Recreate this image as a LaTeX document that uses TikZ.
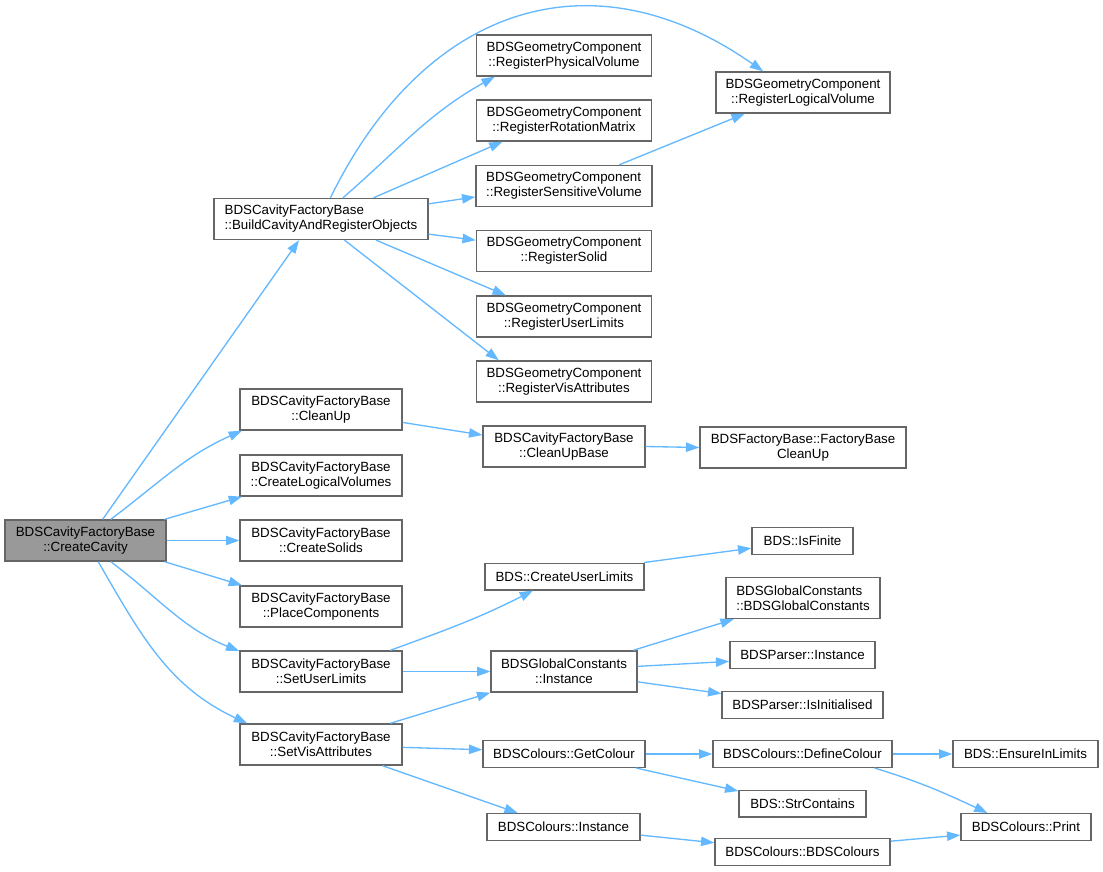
\documentclass[tikz,border=0pt]{standalone}
\usepackage{fontspec}
\setmainfont{Liberation Sans}
\usetikzlibrary{arrows.meta}

\definecolor{callblue}{HTML}{63B8FF}
\definecolor{boxgray}{HTML}{666666}
\definecolor{rootgray}{HTML}{999999}

\tikzset{
  fn/.style={rectangle,draw=boxgray,line width=1pt,fill=white,align=center,
             inner sep=2pt,minimum height=30.75pt,
             font=\fontsize{10}{11.25}\selectfont},
  fnone/.style={fn,minimum height=20pt},
  root/.style={fn,fill=rootgray},
  call/.style={every edge/.style={draw,color=callblue,line width=1pt}},
}

\begin{document}
\begin{tikzpicture}[x=0.75pt,y=-0.75pt,>={Triangle[length=10pt,width=7pt]}]
  \useasboundingbox (0,0) rectangle (1103,871);

  \node[root,minimum width=120.75pt]           (CreateCavity)            at (85.5,540.5)  {BDSCavityFactoryBase\\::CreateCavity};

  \node[fn,align=left,minimum width=160.5pt]   (BuildCavity)             at (321,219)     {BDSCavityFactoryBase\\::BuildCavityAndRegisterObjects};
  \node[fn,minimum width=121.5pt]              (CleanUp)                 at (321,409.5)   {BDSCavityFactoryBase\\::CleanUp};
  \node[fn,minimum width=121.5pt]              (CreateLogicalVolumes)    at (321,475.5)   {BDSCavityFactoryBase\\::CreateLogicalVolumes};
  \node[fn,minimum width=121.5pt]              (CreateSolids)            at (321,540.5)   {BDSCavityFactoryBase\\::CreateSolids};
  \node[fn,minimum width=121.5pt]              (PlaceComponents)         at (321,606.5)   {BDSCavityFactoryBase\\::PlaceComponents};
  \node[fn,minimum width=121.5pt]              (SetUserLimits)           at (321,671.5)   {BDSCavityFactoryBase\\::SetUserLimits};
  \node[fn,minimum width=121.5pt]              (SetVisAttributes)        at (321,744.5)   {BDSCavityFactoryBase\\::SetVisAttributes};

  \node[fn,minimum width=131.25pt]             (RegisterPhysicalVolume)  at (564,55.5)    {BDSGeometryComponent\\::RegisterPhysicalVolume};
  \node[fn,minimum width=131.25pt]             (RegisterRotationMatrix)  at (564,120.5)   {BDSGeometryComponent\\::RegisterRotationMatrix};
  \node[fn,align=left,minimum width=132pt]     (RegisterSensitiveVolume) at (564,186)     {BDSGeometryComponent\\::RegisterSensitiveVolume};
  \node[fn,minimum width=131.25pt]             (RegisterSolid)           at (564,251)     {BDSGeometryComponent\\::RegisterSolid};
  \node[fn,minimum width=131.25pt]             (RegisterUserLimits)      at (564,316.5)   {BDSGeometryComponent\\::RegisterUserLimits};
  \node[fn,minimum width=131.25pt]             (RegisterVisAttributes)   at (564,381.5)   {BDSGeometryComponent\\::RegisterVisAttributes};
  \node[fn,minimum width=130.5pt]              (RegisterLogicalVolume)   at (803,92.5)    {BDSGeometryComponent\\::RegisterLogicalVolume};

  \node[fn,minimum width=121.5pt]              (CleanUpBase)             at (564,446.5)   {BDSCavityFactoryBase\\::CleanUpBase};
  \node[fn,minimum width=154.5pt]              (FactoryBaseCleanUp)      at (803,447.5)   {BDSFactoryBase::FactoryBase\\CleanUp};

  \node[fnone,minimum width=119.25pt]          (CreateUserLimits)        at (564.5,576.5) {BDS::CreateUserLimits};
  \node[fnone,minimum width=75.75pt]           (IsFinite)                at (802.5,541)   {BDS::IsFinite};
  \node[fn,minimum width=109.5pt]              (GlobalConstantsInstance) at (564,671.5)   {BDSGlobalConstants\\::Instance};
  \node[fn,align=left,minimum width=115.5pt]   (GlobalConstantsCtor)     at (803,598)     {BDSGlobalConstants\\::BDSGlobalConstants};
  \node[fnone,minimum width=108.75pt]          (ParserInstance)          at (802.5,655)   {BDSParser::Instance};
  \node[fnone,minimum width=120.75pt]          (ParserIsInitialised)     at (802.5,705)   {BDSParser::IsInitialised};

  \node[fnone,minimum width=121.5pt]           (GetColour)               at (564,754)     {BDSColours::GetColour};
  \node[fnone,minimum width=134.25pt]          (DefineColour)            at (802.5,754)   {BDSColours::DefineColour};
  \node[fnone,minimum width=108.75pt]          (EnsureInLimits)          at (1025.5,754)  {BDS::EnsureInLimits};
  \node[fnone,minimum width=95.25pt]           (StrContains)             at (802.5,803.5) {BDS::StrContains};
  \node[fnone,minimum width=114.75pt]          (ColoursInstance)         at (563.5,827)   {BDSColours::Instance};
  \node[fnone,minimum width=131.25pt]          (ColoursCtor)             at (802.5,852)   {BDSColours::BDSColours};
  \node[fnone,minimum width=97.5pt]            (Print)                   at (1026,827)    {BDSColours::Print};

  \path[->,call]
    (CreateCavity.51)    edge                               (BuildCavity.224)
    (CreateCavity.40)    edge [out=37,in=204]               (CleanUp.195)
    (CreateCavity.15)    edge                               (CreateLogicalVolumes.195)
    (CreateCavity.east)  edge                               (CreateSolids.west)
    (CreateCavity.345)   edge                               (PlaceComponents.165)
    (CreateCavity.320)   edge [out=-37,in=158]              (SetUserLimits.166)
    (CreateCavity.301)   edge [out=-60,in=155]              (SetVisAttributes.164)
    (BuildCavity.66)     edge [out=64,in=145,looseness=1.2] (RegisterLogicalVolume.152)
    (BuildCavity.44)     edge [out=41,in=209]               (RegisterPhysicalVolume.197)
    (BuildCavity.22)     edge                               (RegisterRotationMatrix.199)
    (BuildCavity.8)      edge                               (RegisterSensitiveVolume.187)
    (BuildCavity.352)    edge                               (RegisterSolid.173)
    (BuildCavity.339)    edge                               (RegisterUserLimits.160)
    (BuildCavity.318)    edge                               (RegisterVisAttributes.162)
    (RegisterSensitiveVolume.21) edge                       (RegisterLogicalVolume.200)
    (CleanUp.351)        edge                               (CleanUpBase.172)
    (CleanUpBase.east)   edge                               (FactoryBaseCleanUp.west)
    (SetUserLimits.17)   edge [out=20,in=207]               (CreateUserLimits.204)
    (SetUserLimits.east) edge                               (GlobalConstantsInstance.west)
    (SetVisAttributes.17)  edge                             (GlobalConstantsInstance.196)
    (SetVisAttributes.358) edge                             (GetColour.177)
    (SetVisAttributes.341) edge                             (ColoursInstance.163)
    (CreateUserLimits.10)  edge                             (IsFinite.188)
    (GlobalConstantsInstance.17)  edge                      (GlobalConstantsCtor.197)
    (GlobalConstantsInstance.4)   edge                      (ParserInstance.185)
    (GlobalConstantsInstance.352) edge                      (ParserIsInitialised.172)
    (GetColour.east)     edge                               (DefineColour.west)
    (GetColour.349)      edge                               (StrContains.169)
    (DefineColour.east)  edge                               (EnsureInLimits.west)
    (DefineColour.349)   edge [out=-17,in=155]              (Print.160)
    (ColoursInstance.354) edge                              (ColoursCtor.174)
    (ColoursCtor.7)      edge                               (Print.187);
\end{tikzpicture}
\end{document}
